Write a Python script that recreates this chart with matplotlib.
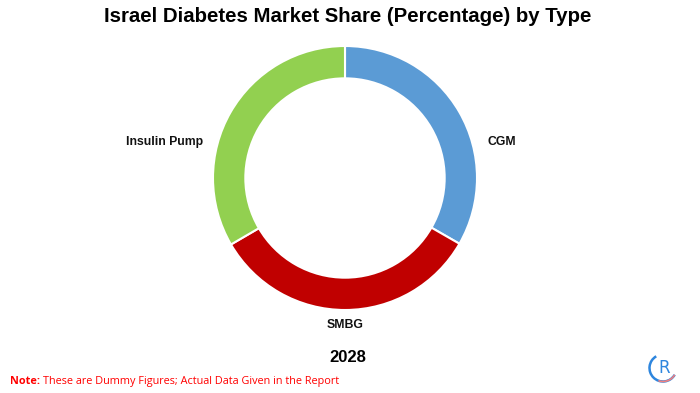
import matplotlib
matplotlib.use("Agg")
import matplotlib.pyplot as plt
from matplotlib.patches import Arc

categories = ["CGM", "SMBG", "Insulin Pump"]
values = [33.3, 33.3, 33.4]
colors = ["#5B9BD5", "#C00000", "#92D050"]
year_label = "2028"
title = "Israel Diabetes Market Share (Percentage) by Type"
note_bold = "Note:"
note_text = "These are Dummy Figures; Actual Data Given in the Report"

fig = plt.figure(figsize=(7, 3.93), dpi=100)
W, H = 700, 393
cx, cy, R = 345, 178, 132
half = 150
ax = fig.add_axes([(cx - half) / W, (H - cy - half) / H, 2 * half / W, 2 * half / H])
wedges, _ = ax.pie(values, colors=colors, startangle=90, counterclock=False,
                   radius=1, wedgeprops=dict(width=0.245, edgecolor="white", linewidth=1.5))
lim = half / R
ax.set_xlim(-lim, lim)
ax.set_ylim(-lim, lim)
ax.set_aspect("equal")
ax.axis("off")

label_pos = {"CGM": (1.19, 0.27), "SMBG": (0.0, -1.115), "Insulin Pump": (-1.37, 0.27)}
for c in categories:
    x, y = label_pos[c]
    ax.text(x, y, c, ha="center", va="center", fontsize=8.8, fontweight="bold",
            family="Liberation Sans", color="#111111")

fig.text(348 / W, 1 - 17 / H, title, ha="center", va="center", fontsize=14.7,
         fontweight="bold", family="Liberation Sans", color="black")
fig.text(348 / W, 1 - 357 / H, year_label, ha="center", va="center", fontsize=12,
         fontweight="bold", family="Liberation Sans", color="black")
base_y = 1 - 384 / H
t1 = fig.text(10 / W, base_y, note_bold, ha="left", va="baseline", fontsize=7.8,
              fontweight="bold", family="Open Sans", color="#FF0000")
fig.canvas.draw()
bb = t1.get_window_extent()
fig.text((bb.x1 + 3) / W, base_y, note_text, ha="left", va="baseline", fontsize=7.8,
         family="Open Sans", color="#FF0000")

# logo
lax = fig.add_axes([648 / W, (H - 383) / H, 30 / W, 30 / H])
lax.set_xlim(-1, 1)
lax.set_ylim(-1, 1)
lax.set_aspect("equal")
lax.axis("off")
lax.add_patch(Arc((0, 0), 1.8, 1.8, theta1=120, theta2=330, color="#2E86DE", lw=1.8))
lax.add_patch(Arc((0, 0), 1.8, 1.8, theta1=250, theta2=330, color="#F08080", lw=1.2))
lax.text(0.1, 0.0, "R", ha="center", va="center", fontsize=12, color="#2E86DE",
         family="DejaVu Sans")

fig.savefig("out.png", dpi=100)
